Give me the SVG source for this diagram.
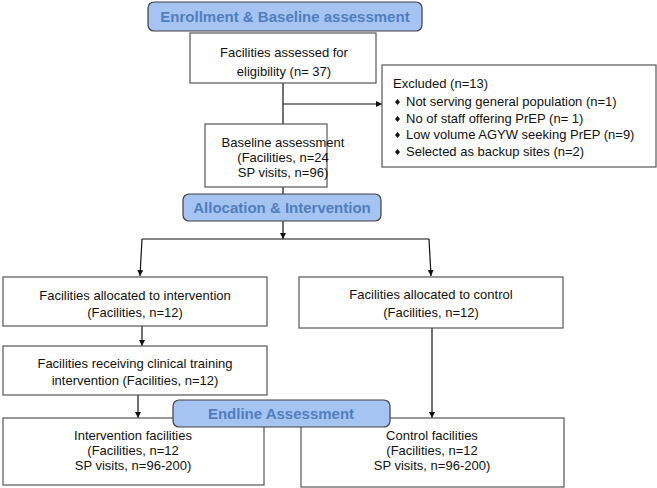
<svg xmlns="http://www.w3.org/2000/svg" width="657" height="488" viewBox="0 0 657 488">
<style>
.box{fill:#fff;stroke:#555;stroke-width:1.2}
.ban{fill:#a6c4f2;stroke:#3f3f3f;stroke-width:1.2}
.t{font-family:"Liberation Sans",Arial,sans-serif;font-size:13px;fill:#111;text-anchor:middle}
.tl{font-family:"Liberation Sans",Arial,sans-serif;font-size:13px;fill:#111}
.bt{font-family:"Liberation Sans",Arial,sans-serif;font-size:15px;font-weight:bold;fill:#4f7fbf;text-anchor:middle}
.c{fill:none;stroke:#111;stroke-width:1.2}
</style>
<defs>
<marker id="ah" viewBox="0 0 10 10" refX="10" refY="5" markerWidth="6" markerHeight="6" orient="auto" markerUnits="userSpaceOnUse">
<path d="M0,0 L10,5 L0,10 z" fill="#111"/>
</marker>
</defs>
<g id="connectors">
<line class="c" x1="283" y1="83" x2="283" y2="124"/>
<line class="c" x1="283" y1="104" x2="382" y2="104" marker-end="url(#ah)"/>
<line class="c" x1="283" y1="187" x2="283" y2="194"/>
<line class="c" x1="283" y1="221" x2="283" y2="239" marker-end="url(#ah)"/>
<polyline class="c" points="142,239 429,239"/>
<line class="c" x1="142" y1="239" x2="140" y2="276" marker-end="url(#ah)"/>
<line class="c" x1="429" y1="239" x2="431" y2="276" marker-end="url(#ah)"/>
<line class="c" x1="142" y1="326" x2="142" y2="346" marker-end="url(#ah)"/>
<line class="c" x1="138" y1="395" x2="138" y2="418" marker-end="url(#ah)"/>
<line class="c" x1="432" y1="328" x2="432" y2="418" marker-end="url(#ah)"/>
</g>
<g id="assessed">
<rect class="box" x="190" y="33" width="186" height="50"/>
<text class="t" x="284" y="57">Facilities assessed for</text>
<text class="t" x="284" y="76">eligibility (n= 37)</text>
</g>
<g id="excluded">
<rect class="box" x="382" y="65" width="274" height="102"/>
<text class="tl" x="393" y="88">Excluded (n=13)</text>
<g font-family="Liberation Sans, Arial, sans-serif" font-size="13" fill="#111">
<path d="M395,102 l2.5,-3 2.5,3 -2.5,3z" fill="#111"/>
<text x="406" y="106">Not serving general population (n=1)</text>
<path d="M395,119 l2.5,-3 2.5,3 -2.5,3z" fill="#111"/>
<text x="406" y="123">No of staff offering PrEP (n= 1)</text>
<path d="M395,135 l2.5,-3 2.5,3 -2.5,3z" fill="#111"/>
<text x="406" y="139">Low volume AGYW seeking PrEP (n=9)</text>
<path d="M395,152 l2.5,-3 2.5,3 -2.5,3z" fill="#111"/>
<text x="406" y="156">Selected as backup sites (n=2)</text>
</g>
</g>
<g id="baseline">
<rect class="box" x="205" y="124" width="122" height="63"/>
<text class="t" x="283" y="147">Baseline assessment</text>
<text class="t" x="283" y="162">(Facilities, n=24</text>
<text class="t" x="283" y="177">SP visits, n=96)</text>
</g>
<g id="alloc-int">
<rect class="box" x="3" y="277" width="264" height="49"/>
<text class="t" x="135" y="300">Facilities allocated to intervention</text>
<text class="t" x="135" y="317">(Facilities, n=12)</text>
</g>
<g id="alloc-ctrl">
<rect class="box" x="299" y="277" width="264" height="51"/>
<text class="t" x="431" y="299">Facilities allocated to control</text>
<text class="t" x="431" y="317">(Facilities, n=12)</text>
</g>
<g id="training">
<rect class="box" x="3" y="346" width="264" height="49"/>
<text class="t" x="135" y="368">Facilities receiving clinical training</text>
<text class="t" x="135" y="385">intervention (Facilities, n=12)</text>
</g>
<g id="int-fac">
<rect class="box" x="3" y="418" width="261" height="67"/>
<text class="t" x="133" y="440">Intervention facilities</text>
<text class="t" x="133" y="455">(Facilities, n=12</text>
<text class="t" x="133" y="470">SP visits, n=96-200)</text>
</g>
<g id="ctrl-fac">
<rect class="box" x="301" y="418" width="263" height="69"/>
<text class="t" x="432" y="440">Control facilities</text>
<text class="t" x="432" y="455">(Facilities, n=12</text>
<text class="t" x="432" y="470">SP visits, n=96-200)</text>
</g>
<g id="banner-enrollment">
<rect class="ban" x="148" y="2" width="274" height="29" rx="6"/>
<text class="bt" x="285" y="22">Enrollment &amp; Baseline assessment</text>
</g>
<g id="banner-allocation">
<rect class="ban" x="183" y="194" width="198" height="27" rx="6"/>
<text class="bt" x="282" y="213">Allocation &amp; Intervention</text>
</g>
<g id="banner-endline">
<rect class="ban" x="173" y="400" width="217" height="27" rx="6"/>
<text class="bt" x="281" y="419">Endline Assessment</text>
</g>
</svg>
